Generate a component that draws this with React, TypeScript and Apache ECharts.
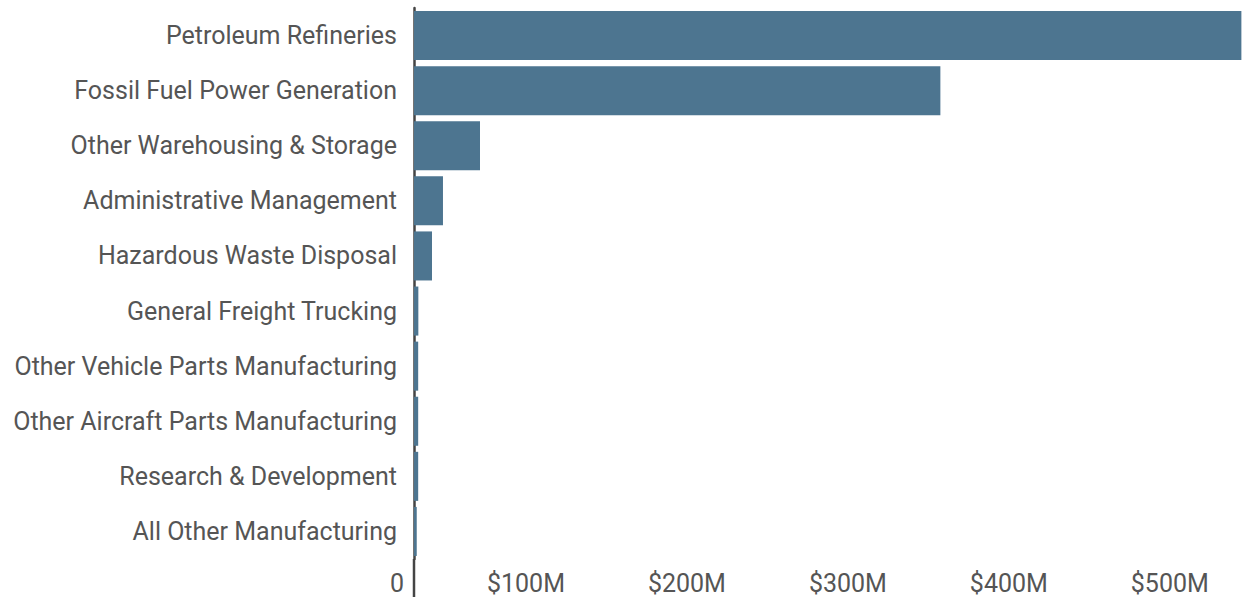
import React, { useEffect, useRef } from "react";
import * as echarts from "echarts";

const categories = [
  "Petroleum Refineries",
  "Fossil Fuel Power Generation",
  "Other Warehousing & Storage",
  "Administrative Management",
  "Hazardous Waste Disposal",
  "General Freight Trucking",
  "Other Vehicle Parts Manufacturing",
  "Other Aircraft Parts Manufacturing",
  "Research & Development",
  "All Other Manufacturing",
];

// values in millions of dollars
const values = [514, 327, 41, 18, 11.2, 2.7, 2.6, 2.6, 2.6, 1.7];

const xTicks = [0, 100, 200, 300, 400, 500];

export default function App() {
  const ref = useRef<HTMLDivElement>(null);
  useEffect(() => {
    if (!ref.current) return;
    const chart = echarts.init(ref.current, undefined, { renderer: "svg" });
    chart.setOption({
      animation: false,
      grid: { left: 414, right: 5, top: 8, bottom: 38, containLabel: false },
      xAxis: {
        type: "value",
        min: 0,
        max: 515,
        interval: 100,
        axisLine: { show: false },
        axisTick: { show: false },
        splitLine: { show: false },
        axisLabel: {
          showMaxLabel: false,
          align: "right",
          padding: [0, 10, 0, 0],
          margin: 12,
          fontFamily: "Roboto",
          fontSize: 25,
          color: "#555",
          formatter: (v: number) =>
            xTicks.includes(v) ? (v === 0 ? "0" : `$${v}M`) : "",
        },
      },
      yAxis: {
        type: "category",
        inverse: true,
        data: categories,
        axisLine: { show: true, lineStyle: { color: "#444", width: 2.5 } },
        axisTick: { show: false },
        axisLabel: {
          margin: 17,
          fontFamily: "Roboto",
          fontSize: 25,
          color: "#555",
        },
      },
      series: [
        {
          type: "bar",
          data: values,
          barCategoryGap: "11%",
          itemStyle: { color: "#4d7590" },
        },
      ],
      graphic: [
        {
          type: "line",
          shape: { x1: 414, y1: 559, x2: 414, y2: 597 },
          style: { stroke: "#444", lineWidth: 2.5 },
          silent: true,
        },
      ],
    });
    return () => chart.dispose();
  }, []);
  return (
    <div
      ref={ref}
      style={{ position: "absolute", left: 0, top: 0, width: 1248, height: 597, background: "#fff" }}
    />
  );
}
